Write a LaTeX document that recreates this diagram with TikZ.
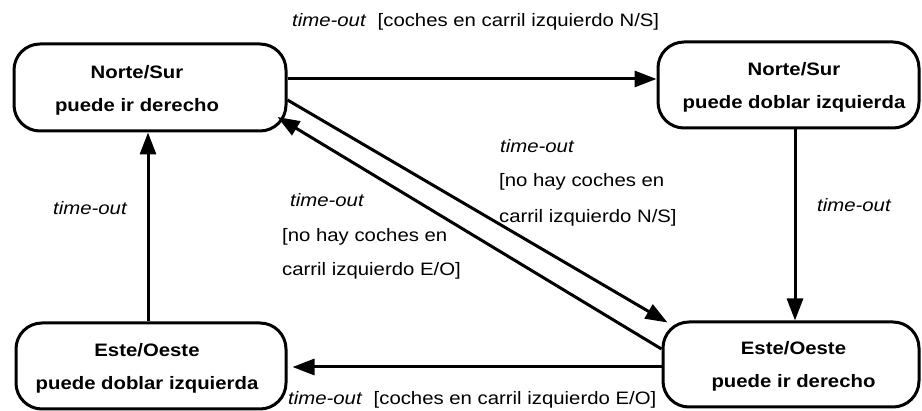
\documentclass[tikz,border=0pt]{standalone}
\usepackage{fontspec}
\setmainfont[FakeStretch=1.13]{Liberation Sans}
\usetikzlibrary{arrows.meta}

\begin{document}
\begin{tikzpicture}[x=1pt,y=-1pt,
  state/.style={draw, line width=3pt, rounded corners=26pt, inner sep=0pt},
  statetext/.style={align=center, inner sep=0pt, font=\fontsize{18}{33}\selectfont\bfseries},
  arr/.style={line width=3pt, -{Triangle[length=22pt,width=16pt]}},
  lbl/.style={anchor=base west, inner sep=0pt, font=\fontsize{18}{22}\selectfont}]

\useasboundingbox (0,0) rectangle (922,411);

% state outlines
\node[state, minimum width=272pt, minimum height=87pt] (A) at (150,87.5) {};
\node[state, minimum width=261pt, minimum height=86pt] (B) at (788.5,85) {};
\node[state, minimum width=256pt, minimum height=85pt] (C) at (791,364.5) {};
\node[state, minimum width=270pt, minimum height=86pt] (D) at (151,366) {};

% state names
\node[statetext] (At) at (137,90.5) {Norte/Sur\\puede ir derecho};
\node[statetext] (Bt) at (794,87) {Norte/Sur\\puede doblar izquierda};
\node[statetext] (Ct) at (793.5,366.5) {Este/Oeste\\puede ir derecho};
\node[statetext] (Dt) at (147,368.5) {Este/Oeste\\puede doblar izquierda};

% transitions
\draw[arr] ([yshift=8.5pt]A.east) -- ([yshift=6pt]B.west);
\draw[arr] ([xshift=6.5pt]B.south) -- ([xshift=4pt]C.north);
\draw[arr] ([yshift=-2.5pt]C.west) -- ([xshift=5pt,yshift=-1pt]D.east);
\draw[arr] ([xshift=-3pt]D.north) -- ([xshift=-2pt]A.south);
\draw[arr] ([yshift=-12.5pt]A.east) -- ([xshift=6pt,yshift=-2pt]C.north west);
\draw[arr] ([yshift=15.5pt]C.west) -- ([xshift=-10pt,yshift=15.5pt]A.south east);

% guards
\node[lbl] (lt) at (292,27) {\textit{time-out}\ \ [coches en carril izquierdo N/S]};
\node[lbl] (lb) at (288,405) {\textit{time-out}\ \ [coches en carril izquierdo E/O]};
\node[lbl] (lr) at (817,212) {\textit{time-out}};
\node[lbl] (ll) at (53,215) {\textit{time-out}};

\node[lbl] (m1) at (500,153) {\textit{time-out}};
\node[lbl] (m2) at (499,187) {[no hay coches en};
\node[lbl] (m3) at (499,223) {carril izquierdo N/S]};

\node[lbl] (n1) at (290,207) {\textit{time-out}};
\node[lbl] (n2) at (282,242) {[no hay coches en};
\node[lbl] (n3) at (282,276) {carril izquierdo E/O]};
\end{tikzpicture}
\end{document}
